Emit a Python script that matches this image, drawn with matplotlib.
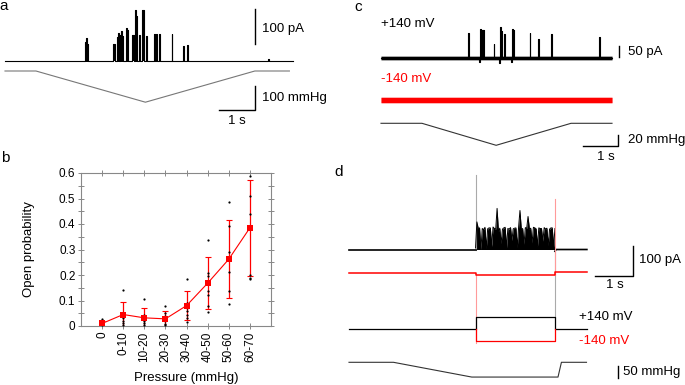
import numpy as np
import matplotlib.pyplot as plt
from matplotlib.ticker import MultipleLocator

plt.rcParams['font.family'] = ['Liberation Sans', 'DejaVu Sans']

W, H = 685, 385
RED = '#ff0000'
GRAY = '#888888'

# ---------------- panel b: open probability vs pressure
pressure_bins = ['0', '0-10', '10-20', '20-30', '30-40', '40-50', '50-60', '60-70']
po_mean = [0.010, 0.045, 0.032, 0.028, 0.080, 0.168, 0.262, 0.385]
po_sd = [0.010, 0.050, 0.038, 0.030, 0.057, 0.102, 0.153, 0.187]
po_cells = [
    [0.028, 0.012, 0.006, 0.003],
    [0.142, 0.050, 0.032, 0.020, 0.010, 0.004],
    [0.105, 0.042, 0.030, 0.020, 0.010, 0.004],
    [0.080, 0.052, 0.040, 0.030, 0.018, 0.008, 0.003],
    [0.186, 0.092, 0.082, 0.070, 0.058, 0.045, 0.030, 0.017],
    [0.337, 0.207, 0.195, 0.174, 0.139, 0.120, 0.078, 0.056],
    [0.488, 0.392, 0.292, 0.213, 0.137, 0.085],
    [0.588, 0.511, 0.439, 0.385, 0.200, 0.190, 0.186],
]

# ---------------- panel a: current (pA) and pressure ramp (mmHg), time in s
a_open_start = [2.22, 2.25, 2.28, 3.01, 3.12, 3.15, 3.19, 3.22, 3.26, 3.36, 3.40,
                3.54, 3.61, 3.65, 3.71, 3.81, 3.91, 4.15, 4.19, 4.29, 4.63, 4.94, 5.05, 7.31]
a_open_end = [2.24, 2.27, 2.31, 3.05, 3.14, 3.18, 3.21, 3.25, 3.29, 3.38, 3.43,
              3.57, 3.64, 3.68, 3.75, 3.86, 3.94, 4.17, 4.21, 4.31, 4.65, 4.97, 5.07, 7.33]
a_open_amp = [55, 65, 50, 50, 70, 80, 75, 85, 72, 95, 90,
              74, 145, 130, 74, 145, 72, 78, 78, 78, 78, 42, 45, 5]
a_press_t = [0, 0.86, 3.90, 6.94, 7.90]
a_press = [0, 0, -130, 0, 0]

# ---------------- panel c: +140 mV / -140 mV traces
c_open_start = [2.48, 2.80, 2.83, 2.87, 2.91, 3.22, 3.38, 3.40, 3.44, 3.51, 3.71, 3.73, 3.77,
                4.25, 4.49, 4.86, 6.23]
c_open_end = [2.51, 2.82, 2.86, 2.90, 2.94, 3.24, 3.40, 3.42, 3.47, 3.53, 3.73, 3.76, 3.80,
              4.27, 4.51, 4.89, 6.25]
c_open_amp = [114, -20, 132, 128, 125, 64, -25, 141, 120, 109, -20, 132, 125,
              114, 86, 109, 95]
c_end = 6.6
c_press_t = [0, 1.17, 3.29, 5.43, 6.6]
c_press = [0, 0, -40, 0, 0]

# ---------------- panel d: voltage steps during pressure
d_t_on, d_t_off, d_end = 3.33, 5.42, 6.26
d_burst = [5, 92, 70, 72, 0, 70, 66, 74, 3, 69, 72, 72, 10, 75, 70, 68, 137, 60, 71, 20,
           68, 72, 74, 5, 70, 68, 73, 30, 69, 71, 72, 6, 75, 130, 66, 70, 18, 73, 70, 110,
           68, 71, 22, 74, 72, 69, 10, 72, 70, 70, 28, 73, 68, 71, 14, 68, 72, 72, 8, 70]
d_red_step = -8
d_red_after = 3
d_transient_black = [248, -225]
d_transient_red = [-234, 246]
d_volt_t = [0, 3.33, 3.33, 5.42, 5.42, 6.25]
d_plus = [0, 0, 140, 140, 0, 0]
d_minus = [0, 0, -140, -140, 0, 0]
d_press_t = [0, 1.17, 3.23, 5.50, 5.59, 6.25]
d_press = [0, 0, -60, -60, 0, 0]

fig = plt.figure(figsize=(W / 100, H / 100), dpi=100)


def trace_axes(x0, y0, sx, sy):
    # full-figure axes: x0,y0 = pixel of (t=0, value=0); sx, sy = pixels per unit
    ax = fig.add_axes([0, 0, 1, 1])
    ax.set_xlim(-x0 / sx, (W - x0) / sx)
    ax.set_ylim(-(H - y0) / sy, y0 / sy)
    ax.axis('off')
    ax.patch.set_visible(False)
    return ax


def step_trace(t_end, starts, ends, amps):
    t, y = [0], [0]
    for s, e, a in zip(starts, ends, amps):
        t += [s, s, e, e]
        y += [0, a, a, 0]
    t.append(t_end)
    y.append(0)
    return t, y


fs = 9.5

# ---- panel b
axb = fig.add_axes([81 / W, 1 - 326 / H, 190 / W, 153 / H])
xpos = np.arange(len(pressure_bins))
axb.errorbar(xpos, po_mean, yerr=po_sd, fmt='-', color=RED, lw=0.8,
             elinewidth=0.9, capsize=2, capthick=0.8, zorder=2)
for i, vals in enumerate(po_cells):
    axb.plot([i] * len(vals), vals, 'o', color='k', ms=1.6, mew=0, zorder=3)
axb.plot(xpos, po_mean, 's', color=RED, ms=4.2, mew=0, zorder=4)
axb.set_xlim(-1, 8)
axb.set_ylim(0, 0.6)
axb.set_xticks(xpos)
axb.set_xticklabels(pressure_bins, rotation=90, fontsize=8.5)
axb.yaxis.set_major_locator(MultipleLocator(0.1))
axb.yaxis.set_minor_locator(MultipleLocator(0.05))
axb.set_yticks(np.arange(0, 0.61, 0.1))
axb.set_yticklabels(['0', '0.1', '0.2', '0.3', '0.4', '0.5', '0.6'], fontsize=8.5)
axb.tick_params(axis='both', which='both', color=GRAY, width=0.7, pad=2,
                top=True, right=True, direction='inout', length=4)
for sp in axb.spines.values():
    sp.set_color(GRAY)
    sp.set_linewidth(0.8)
axb.set_ylabel('Open probability', fontsize=fs)
axb.set_xlabel('Pressure (mmHg)', fontsize=fs)
axb.yaxis.set_label_coords(-0.242, 0.5)
axb.xaxis.set_label_coords(0.553, -0.30)

# ---- panel a
ax = trace_axes(5, 61, 36, 0.35)
t, y = step_trace(8.0, a_open_start, a_open_end, a_open_amp)
ax.fill_between(t, 0, y, color='k', lw=0)
ax.plot(t, y, color='k', lw=0.8)
ax.plot([6.94, 6.94], [49, 149], color='k', lw=1)
ax.text(7.14, 91, '100 pA', fontsize=fs, ha='left', va='center')

ax = trace_axes(5, 71, 36, 0.24)
ax.plot(a_press_t, a_press, color='#777777', lw=0.8)
ax.plot([5.94, 6.94, 6.94], [-162.5, -162.5, -62.5], color='k', lw=1)
ax.text(7.14, -112.5, '100 mmHg', fontsize=fs, ha='left', va='center')
ax.text(6.44, -208, '1 s', fontsize=fs, ha='center', va='center')

# ---- panel c
ax = trace_axes(381, 57.7, 35, 0.22)
ax.plot([0, c_end], [0, 0], color='k', lw=3.4, alpha=0.3, solid_capstyle='butt')
ax.plot([0, c_end], [0, 0], color='k', lw=2.3, solid_capstyle='butt')
t, y = step_trace(c_end, c_open_start, c_open_end, c_open_amp)
ax.fill_between(t, 0, y, color='k', lw=0)
ax.plot(t, y, color='k', lw=0.8)
ax.plot([6.8, 6.8], [3, 53], color='k', lw=1)
ax.text(7.06, 26, '50 pA', fontsize=fs, ha='left', va='center')
ax.text(0, 153, '+140 mV', fontsize=fs, ha='left', va='center')

ax = trace_axes(381, 100, 35, 0.22)
ax.plot([0, c_end], [0, 0], color=RED, lw=5.0, alpha=0.3, solid_capstyle='butt')
ax.plot([0, c_end], [0, 0], color=RED, lw=3.6, solid_capstyle='butt')
ax.text(0, 95, '-140 mV', fontsize=fs, ha='left', va='center', color=RED)

ax = trace_axes(381, 123.3, 35, 0.55)
ax.plot(c_press_t, c_press, color='#333333', lw=0.8)
ax.plot([5.77, 6.77, 6.77], [-40.7, -40.7, -20.7], color='k', lw=1)
ax.text(7.06, -30.4, '20 mmHg', fontsize=fs, ha='left', va='center')
ax.text(6.43, -60.7, '1 s', fontsize=fs, ha='center', va='center')

# ---- panel d
ax = trace_axes(349, 249.5, 38, 0.3)
tb = np.linspace(d_t_on, d_t_off, len(d_burst))
ax.plot([d_t_on, d_t_on], [0, d_transient_black[0]], color='#aaaaaa', lw=0.8)
ax.plot([d_t_off, d_t_off], [0, d_transient_black[1]], color='#aaaaaa', lw=0.8)
ax.plot([0, d_t_on], [0, 0], color='k', lw=1.2)
ax.fill_between(tb, 0, d_burst, color='k', lw=0)
ax.plot(tb, d_burst, color='k', lw=0.7)
ax.plot([d_t_off, d_t_off + 0.03, d_end], [-6, 0, 0], color='k', lw=1.2)
ax.plot([6.48, 7.48, 7.48], [-88, -88, 12], color='k', lw=1)
ax.text(7.62, -35, '100 pA', fontsize=fs, ha='left', va='center')
ax.text(7.0, -118, '1 s', fontsize=fs, ha='center', va='center')

ax = trace_axes(349, 272.7, 38, 0.3)
ax.plot([d_t_on, d_t_on], [d_red_step, d_transient_red[0]], color='#ff9a9a', lw=0.8)
ax.plot([d_t_off, d_t_off], [d_red_step, d_transient_red[1]], color='#ff9a9a', lw=0.8)
ax.plot([0, d_t_on, d_t_on, d_t_off, d_t_off, d_end],
        [0, 0, d_red_step, d_red_step, d_red_after, d_red_after], color=RED, lw=1.1)

ax = trace_axes(349, 329.3, 38, 12 / 140)
ax.plot(d_volt_t, d_plus, color='k', lw=0.9)
ax.plot(d_volt_t[1:5], d_minus[1:5], color=RED, lw=0.9)
ax.text(6.05, 140, '+140 mV', fontsize=fs, ha='left', va='center')
ax.text(6.05, -140, '-140 mV', fontsize=fs, ha='left', va='center', color=RED)

ax = trace_axes(349, 362.3, 38, 0.246)
ax.plot(d_press_t, d_press, color='#333333', lw=0.8)
ax.plot([7.07, 7.07], [-15, -65], color='k', lw=1)
ax.text(7.21, -39, '50 mmHg', fontsize=fs, ha='left', va='center')

# panel letters
for letter, (px, py) in zip('abcd', [(4, 6.5), (5, 158), (358, 7), (339, 172)]):
    fig.text(px / W, 1 - py / H, letter, fontsize=11, ha='center', va='center')

fig.savefig('out.png', dpi=100)
